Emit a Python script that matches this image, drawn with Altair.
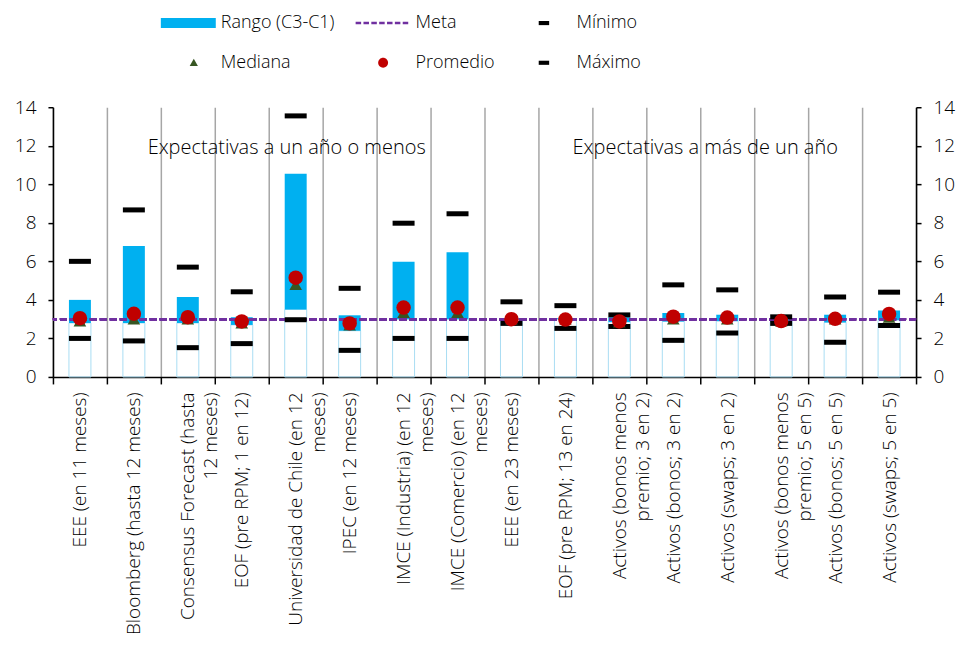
import altair as alt
import pandas as pd

# ---------------- data ----------------
categorias = [
    "EEE (en 11 meses)",
    "Bloomberg (hasta 12 meses)",
    "Consensus Forecast (hasta|12 meses)",
    "EOF (pre RPM; 1 en 12)",
    "Universidad de Chile (en 12|meses)",
    "IPEC (en 12 meses)",
    "IMCE (Industria) (en 12|meses)",
    "IMCE (Comercio) (en 12|meses)",
    "EEE (en 23 meses)",
    "EOF (pre RPM; 13 en 24)",
    "Activos (bonos menos|premio; 3 en 2)",
    "Activos (bonos; 3 en 2)",
    "Activos (swaps; 3 en 2)",
    "Activos (bonos menos|premio; 5 en 5)",
    "Activos (bonos; 5 en 5)",
    "Activos (swaps; 5 en 5)",
]
c1 = [2.8, 2.8, 2.8, 2.7, 3.5, 2.4, 3.0, 3.0, 3.0, 3.0, 2.85, 2.88, 2.9, 2.85, 2.83, 2.95]
c3 = [4.0, 6.8, 4.15, 3.1, 10.55, 3.2, 5.98, 6.47, 3.05, 3.05, 3.1, 3.32, 3.23, 3.0, 3.23, 3.45]
minimo = [2.0, 1.87, 1.52, 1.73, 2.97, 1.38, 2.0, 2.0, 2.78, 2.52, 2.62, 1.9, 2.28, 2.78, 1.8, 2.67]
maximo = [6.0, 8.67, 5.7, 4.42, 13.55, 4.6, 7.98, 8.47, 3.9, 3.7, 3.22, 4.78, 4.52, 3.12, 4.15, 4.4]
promedio = [3.05, 3.28, 3.1, 2.88, 5.15, 2.78, 3.6, 3.6, 3.0, 2.98, 2.88, 3.13, 3.08, 2.9, 3.02, 3.27]
mediana = [2.9, 3.0, 3.0, 2.8, 4.8, 2.7, 3.35, 3.35, 3.0, 3.0, 2.85, 3.0, 3.0, 2.9, 3.0, 3.1]
meta = 3.0

anotaciones = ["Expectativas a un año o menos", "Expectativas a más de un año"]
anotacion_cat = [categorias[4], categorias[12]]
anotacion_y = [11.9, 11.9]

serie_nombres = ["Rango (C3-C1)", "Meta", "Mínimo", "Mediana", "Promedio", "Máximo"]
serie_colores = ["#00b0f0", "#7030a0", "#000000", "#375623", "#c00000", "#000000"]

# ---------------- style ----------------
FONT = "Open Sans"
FW = 300
ANN_DX = [18, 5]  # offset from band start (px)

df = pd.DataFrame({
    "cat": categorias, "c1": c1, "c3": c3, "min": minimo, "max": maximo,
    "prom": promedio, "med": mediana,
})
df_ann = pd.DataFrame({"cat": anotacion_cat, "txt": anotaciones, "y": anotacion_y, "dx": ANN_DX})
df_leg = pd.DataFrame({"serie": serie_nombres, "v": [None] * len(serie_nombres)})

# legend symbol paths (unit box [-1,1] -> 55 px)
dash_path = "".join(
    f"M{-1 + i * 2 / 7:.4f},-0.045h0.2v0.09h-0.2Z" for i in range(7)
)
shape_paths = [
    "M-1,-0.18H1V0.18H-1Z",
    dash_path,
    "M-0.19,-0.075H0.19V0.075H-0.19Z",
    "M0.2,-0.15L0.35,0.12L0.05,0.12Z",
    "M-0.18,0A0.18,0.18,0,1,0,0.18,0A0.18,0.18,0,1,0,-0.18,0Z",
    "M-0.19,-0.075H0.19V0.075H-0.19Z",
]

xenc = alt.X(
    "cat:N",
    sort=categorias,
    scale=alt.Scale(paddingInner=0, paddingOuter=0),
    axis=alt.Axis(
        title=None, labelAngle=-90, labelAlign="right", labelBaseline="middle",
        labelExpr="split(datum.label, '|')", labelLineHeight=23, labelLimit=0,
        labelPadding=8, tickBand="extent", grid=True, gridColor="#a6a6a6",
        gridWidth=1.5, tickColor="#000000", tickSize=7, tickWidth=1.5,
        domainColor="#000000", domainWidth=1.5, labelFontSize=19, labelFont=FONT,
        labelFontWeight=FW, labelColor="#000000",
    ),
)
yscale = alt.Scale(domain=[0, 14], nice=False)
yvals = list(range(0, 15, 2))

def yaxis(orient):
    return alt.Axis(
        orient=orient, title=None, values=yvals, grid=False, tickSize=5,
        tickColor="#000000", tickWidth=1.5, domainColor="#000000", domainWidth=1.5,
        labelPadding=12, labelFontSize=19, labelFont=FONT, labelFontWeight=FW,
        labelColor="#000000",
    )

base = alt.Chart(df)

faint = base.mark_bar(filled=False, color="#a9ddf3", strokeWidth=1, width=22).encode(
    x=xenc, y=alt.Y("c1:Q", scale=yscale, axis=yaxis("left"))
)
rango = base.mark_bar(color="#00b0f0", width=22).encode(
    x=xenc, y=alt.Y("c1:Q", scale=yscale, axis=yaxis("right")), y2="c3:Q"
)
meta_line = base.mark_rule(color="#7030a0", strokeWidth=2.5, strokeDash=[7, 3]).encode(
    y=alt.datum(meta, scale=yscale, axis=None)
)
tick_min = base.mark_tick(color="#000000", thickness=5, size=22, opacity=1).encode(
    x=xenc, y=alt.Y("min:Q", scale=yscale, axis=None)
)
tick_max = base.mark_tick(color="#000000", thickness=5, size=22, opacity=1).encode(
    x=xenc, y=alt.Y("max:Q", scale=yscale, axis=None)
)
med = base.mark_point(shape="triangle-up", filled=True, color="#375623", size=160, opacity=1).encode(
    x=xenc, y=alt.Y("med:Q", scale=yscale, axis=None)
)
prom = base.mark_circle(color="#c00000", size=210, opacity=1).encode(
    x=xenc, y=alt.Y("prom:Q", scale=yscale, axis=None)
)
ann = alt.Chart(df_ann).mark_text(
    font=FONT, fontSize=20, fontWeight=FW, color="#000000", align="center", baseline="middle"
).encode(
    x=xenc, y=alt.Y("y:Q", scale=yscale, axis=None), text="txt:N",
    xOffset=alt.XOffset("dx:Q", scale=None),
)
leg = alt.Chart(df_leg).mark_point(filled=True, opacity=1).encode(
    y=alt.Y("v:Q", scale=yscale, axis=None),
    color=alt.Color(
        "serie:N",
        scale=alt.Scale(domain=serie_nombres, range=serie_colores),
        legend=alt.Legend(
            title=None, orient="none", legendX=108, legendY=-112, columns=3,
            direction="horizontal",
            symbolSize=3025, symbolStrokeWidth=0, symbolOpacity=1,
            labelFontSize=18, labelFont=FONT, labelFontWeight=FW, labelColor="#000000",
            labelOffset=5, rowPadding=3, columnPadding=21, padding=0,
        ),
    ),
    shape=alt.Shape(
        "serie:N",
        scale=alt.Scale(domain=serie_nombres, range=shape_paths),
        legend=alt.Legend(title=None),
    ),
)

chart = alt.layer(faint, rango, meta_line, tick_min, tick_max, med, prom, ann, leg).properties(
    width=864, height=270,
    autosize=alt.AutoSizeParams(type="none"),
    padding={"left": 45, "top": 99, "right": 40, "bottom": 262},
).configure_view(stroke=None)

chart.save("out.html", embed_options={"renderer": "svg", "actions": False})
